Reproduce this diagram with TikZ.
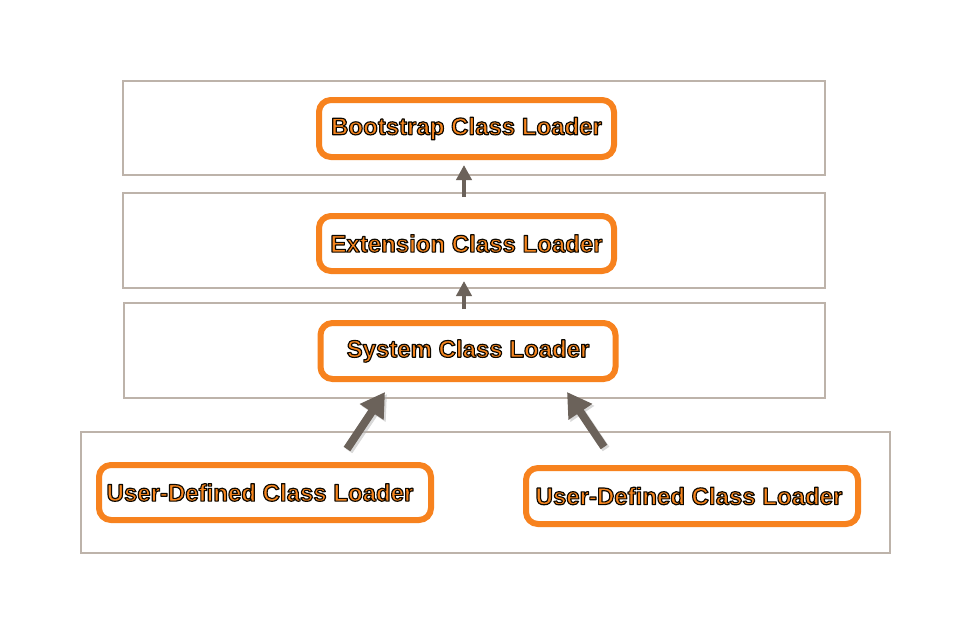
\documentclass[tikz,border=0pt]{standalone}
\usepackage{fontspec}
\setmainfont{Liberation Sans}
\usetikzlibrary{arrows.meta}
\definecolor{panelc}{HTML}{BDB3AA}
\definecolor{orangec}{HTML}{F7821E}
\definecolor{textor}{HTML}{F7861F}
\definecolor{arrowc}{HTML}{6B625A}
\newcommand\olt[1]{\raisebox{-2.5pt}{\color{textor}\special{pdf:literal direct 2 Tr 1.15 w 1 j 0.05 0.03 0 RG}#1\special{pdf:literal direct 0 Tr}}}
\tikzset{
  panel/.style={draw=panelc, line width=1.5pt, rectangle, inner sep=0pt},
  loader/.style={draw=orangec, line width=6pt, rounded corners=12pt, fill=white,
    minimum width=295pt, minimum height=57pt, inner sep=0pt,
    font=\fontsize{24}{28}\selectfont\bfseries},
  smallarr/.style={draw=arrowc, line width=4pt, -{Triangle[width=15pt,length=15pt]}},
  bigarr/.style={draw=arrowc, line width=8pt, -{Triangle[width=27pt,length=24pt]}},
  bigshadow/.style={draw=black!30, opacity=0.5, line width=8pt, -{Triangle[width=27pt,length=24pt]}},
}
\begin{document}
\begin{tikzpicture}[x=1pt,y=-1pt]
\useasboundingbox[fill=white] (0,0) rectangle (972,635);
% panels
\node[panel, minimum width=702pt, minimum height=94pt] (p1) at (474,128) {};
\node[panel, minimum width=702pt, minimum height=95pt] (p2) at (474,240.5) {};
\node[panel, minimum width=701pt, minimum height=95pt] (p3) at (474.5,350.5) {};
\node[panel, minimum width=809pt, minimum height=121pt] (p4) at (485.5,492.5) {};
% loaders
\node[loader] (boot) at (466.5,128.5) {\olt{Bootstrap Class Loader}};
\node[loader, minimum height=55pt] (ext) at (466.5,243.5) {\olt{Extension Class Loader}};
\node[loader, minimum height=56pt] (sys) at (468,351) {\olt{System Class Loader}};
\node[loader, minimum width=332pt, minimum height=55pt] (u1) at (265,492.5) {\hspace*{-10pt}\olt{User-Defined Class Loader}};
\node[loader, minimum width=332pt, minimum height=56pt] (u2) at (692,496) {\hspace*{-6pt}\olt{User-Defined Class Loader}};
% small arrows
\draw[smallarr, shorten <=16pt, shorten >=5pt] ([xshift=-2.5pt]ext.north) -- ([xshift=-2.5pt]boot.south);
\draw[smallarr, shorten <=11pt, shorten >=7pt] ([xshift=-4pt]sys.north) -- ([xshift=-2.5pt]ext.south);
% big arrows
\coordinate (l0) at (347,449);
\coordinate (l1) at (385,392);
\coordinate (r0) at (604,447);
\coordinate (r1) at (567,392);
\coordinate (l0s) at (349,451);
\coordinate (l1s) at (387,394);
\coordinate (r0s) at (606,449);
\coordinate (r1s) at (569,394);
\draw[bigshadow] (l0s) -- (l1s);
\draw[bigshadow] (r0s) -- (r1s);
\draw[bigarr] (l0) -- (l1);
\draw[bigarr] (r0) -- (r1);
\end{tikzpicture}
\end{document}
